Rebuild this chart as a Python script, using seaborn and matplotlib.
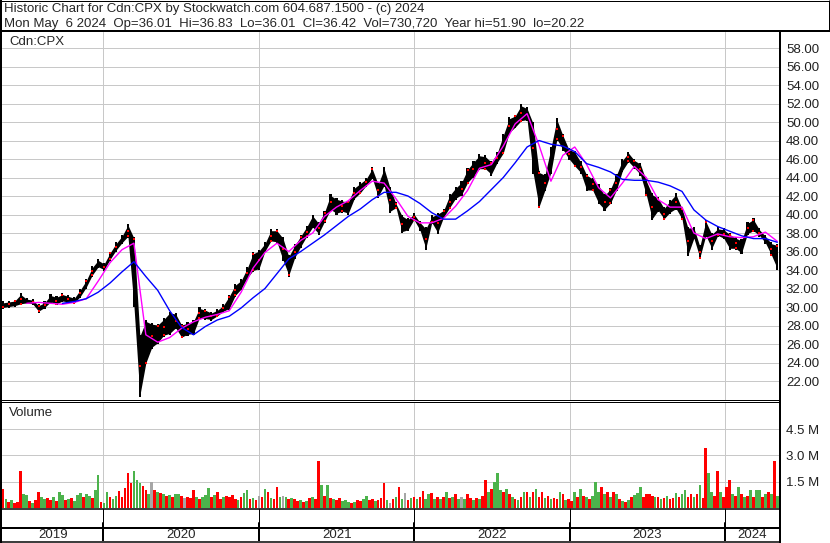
import numpy as np
import pandas as pd
import seaborn as sns
import matplotlib
matplotlib.use("Agg")
import matplotlib.pyplot as plt

sns.set_style("white")
plt.rcParams["font.family"] = ["Liberation Sans", "DejaVu Sans"]

# --- text ---
title_1 = "Historic Chart for Cdn:CPX by Stockwatch.com 604.687.1500 - (c) 2024"
title_2 = ("Mon May  6 2024  Op=36.01  Hi=36.83  Lo=36.01  Cl=36.42  "
           "Vol=730,720  Year hi=51.90  lo=20.22")
symbol = "Cdn:CPX"
year_labels = ["2019", "2020", "2021", "2022", "2023", "2024"]
year_starts = ["2020-01-01", "2021-01-01", "2022-01-01", "2023-01-01", "2024-01-01"]

# --- price, two-week bars (low / high) ---
price_dates = pd.date_range("2019-05-10", periods=131, freq="14D")
lows = [29.8, 29.9, 30.0, 30.2, 30.3, 30.2, 29.4, 29.8, 30.4, 30.2,
        30.5, 30.4, 30.3, 31.0, 32.0, 33.3, 34.2, 33.9, 35.0, 36.0,
        36.8, 37.5, 30.0, 20.3, 23.8, 25.5, 26.0, 26.8, 27.0, 27.6,
        26.6, 26.9, 27.0, 28.7, 28.6, 28.5, 28.9, 29.4, 29.7, 31.1,
        31.8, 33.0, 33.8, 34.0, 35.9, 37.0, 36.9, 35.0, 33.3, 35.2,
        36.4, 37.5, 38.5, 37.8, 39.1, 40.4, 40.0, 40.2, 40.0, 41.6,
        42.2, 43.0, 43.8, 41.8, 43.0, 40.2, 40.6, 38.0, 38.2, 39.3,
        38.2, 36.2, 39.0, 37.9, 39.6, 40.6, 41.6, 42.0, 43.3, 44.0,
        44.8, 44.8, 44.2, 45.5, 46.5, 48.7, 49.3, 50.0, 50.1, 44.4,
        40.7, 42.5, 44.4, 48.0, 46.9, 45.9, 45.1, 44.4, 42.5, 42.5,
        41.1, 40.4, 41.1, 42.5, 44.6, 45.6, 44.9, 44.2, 42.0, 39.4,
        40.3, 39.4, 40.1, 40.5, 39.4, 35.5, 37.3, 35.2, 37.6, 36.2,
        37.6, 37.3, 36.2, 36.2, 35.7, 37.8, 38.1, 37.6, 36.8, 35.5,
        34.0]
highs = [30.6, 30.7, 30.8, 31.5, 31.0, 30.9, 30.3, 30.6, 31.4, 31.2,
         31.5, 31.3, 31.1, 32.0, 33.0, 34.4, 35.2, 34.8, 36.0, 37.0,
         37.8, 39.0, 37.6, 27.0, 28.6, 28.3, 28.2, 28.8, 29.5, 29.4,
         28.2, 28.4, 28.6, 30.0, 29.8, 29.5, 29.8, 30.3, 31.3, 32.5,
         33.0, 34.3, 35.9, 36.2, 37.0, 38.4, 38.4, 37.6, 35.6, 36.8,
         37.8, 38.8, 40.0, 39.2, 40.4, 42.2, 41.8, 41.6, 41.5, 43.0,
         43.5, 44.0, 45.1, 43.4, 45.1, 43.0, 41.3, 40.0, 39.6, 40.2,
         39.3, 38.6, 39.9, 40.2, 40.6, 42.2, 43.0, 43.6, 45.0, 45.8,
         46.5, 46.4, 45.8, 46.8, 48.7, 50.5, 50.8, 51.9, 51.6, 50.0,
         44.7, 44.4, 47.3, 50.4, 48.7, 47.2, 46.9, 45.8, 44.4, 44.0,
         43.3, 42.2, 42.9, 44.4, 46.0, 46.8, 46.0, 45.6, 43.8, 42.3,
         41.9, 40.8, 41.6, 42.3, 40.8, 38.7, 38.7, 36.7, 39.4, 38.0,
         38.6, 38.5, 38.0, 37.6, 37.3, 39.2, 39.6, 38.5, 37.8, 37.0,
         36.8]

# --- moving averages, read every four weeks ---
ma_short = [30.4, 30.5, 30.4, 30.3, 30.5, 30.9, 32.8, 34.8, 36.2, 36.9,
            27.0, 26.2, 26.7, 27.7, 28.4, 28.9, 29.2, 29.6, 31.6, 34.2,
            35.9, 36.9, 36.0, 37.2, 38.0, 39.8, 40.8, 41.5, 42.6, 43.6,
            43.4, 41.7, 39.8, 39.1, 39.1, 39.6, 40.9, 42.6, 45.0, 45.4,
            47.4, 49.8, 50.9, 47.5, 43.6, 46.4, 47.3, 45.4, 42.9, 41.8,
            43.4, 45.2, 44.0, 41.6, 40.8, 40.8, 38.0, 37.4, 37.9, 37.6,
            37.5, 37.6, 38.1, 37.1]
ma_long = [30.4, 30.6, 30.9, 31.6, 32.6, 33.8, 34.9, 33.3, 31.8, 29.6,
           27.8, 27.0, 27.9, 28.6, 29.0, 29.9, 31.0, 32.0, 33.6, 35.2,
           36.0, 36.9, 37.8, 38.8, 39.8, 40.6, 41.6, 42.4, 42.4, 42.0,
           41.2, 40.2, 39.5, 39.5, 40.4, 41.4, 42.7, 44.0, 45.6, 47.3,
           48.0, 47.6, 47.4, 46.8, 45.5, 45.1, 44.6, 43.8, 43.7, 43.7,
           43.5, 43.1, 42.5, 40.5, 39.4, 38.7, 38.2, 37.7, 37.4, 37.4,
           37.0]

# --- weekly volume (millions) and up/down colour code ---
vol_dates = pd.date_range("2019-05-10", periods=261, freq="7D")
volume = [1.1, 0.5, 0.35, 0.45, 0.3, 0.35, 2.1, 0.8, 0.75, 0.4,
          0.3, 0.45, 0.9, 0.6, 0.5, 0.55, 0.45, 0.6, 0.4, 0.9,
          0.75, 0.45, 0.5, 0.55, 0.4, 0.75, 0.85, 0.6, 0.8, 0.7,
          0.55, 1.0, 1.9, 0.35,
          0.3, 0.9, 0.6, 0.5, 0.7, 0.95, 0.6, 1.15, 2.0, 1.4,
          2.1, 1.6, 1.4, 1.25, 1.0, 0.8, 1.5, 1.0, 0.9, 0.85,
          0.8, 0.7, 0.75, 0.6, 0.8, 0.8, 0.7, 0.55, 0.6, 0.55,
          1.0, 0.65, 0.5, 0.65, 0.75, 1.15, 0.6, 0.75, 0.9, 0.5,
          0.6, 0.7, 0.6, 0.75, 0.5, 0.45, 0.6, 0.85, 1.0, 0.5,
          0.55, 0.45, 0.7,
          0.6, 1.1, 0.9, 0.55, 0.5, 1.2, 0.6, 0.7, 0.6, 0.5,
          0.55, 0.5, 0.4, 0.45, 0.35, 0.4, 0.55, 0.6, 0.5, 2.7,
          1.3, 0.7, 1.3, 0.55, 0.5, 0.45, 0.55, 0.4, 0.45, 0.35,
          0.3, 0.35, 0.45, 0.4, 0.5, 0.7, 0.45, 0.5, 0.4, 0.45,
          0.55, 1.4, 0.45, 0.3, 0.5, 0.6, 1.2, 0.5, 0.85, 0.45,
          0.55, 0.6,
          0.5, 0.6, 0.95, 0.5, 0.8, 0.85, 0.5, 0.6, 0.5, 0.6,
          0.9, 0.55, 0.6, 0.8, 0.5, 0.6, 0.5, 0.8, 0.55, 0.45,
          0.55, 0.5, 0.7, 1.6, 0.9, 1.1, 1.5, 2.0, 1.0, 0.9,
          1.1, 0.8, 0.6, 0.5, 0.45, 0.6, 0.9, 0.9, 0.65, 0.9,
          1.1, 0.6, 0.9, 0.55, 0.7, 0.5, 0.55, 0.5, 0.9, 0.8,
          0.45, 0.5, 0.4, 0.9,
          0.6, 1.1, 0.7, 0.6, 0.5, 0.7, 1.5, 0.9, 1.2, 0.8,
          0.9, 0.6, 0.9, 0.8, 0.5, 0.4, 0.35, 0.45, 0.6, 0.75,
          0.85, 1.2, 0.6, 0.8, 0.8, 0.7, 0.6, 0.65, 0.5, 0.55,
          0.7, 0.5, 0.55, 0.85, 0.65, 0.8, 1.0, 0.6, 0.8, 0.6,
          0.8, 1.3, 0.55, 3.4, 2.0, 0.9, 0.7, 2.1, 0.9, 0.6,
          1.2, 1.6, 0.8, 0.7, 1.2, 0.8, 0.6, 0.7, 1.0, 0.6,
          1.0, 1.0, 0.6, 0.8, 0.9, 0.8, 2.7, 0.7]
vol_dir = ("rgrgrrrggrgrrggrrgrggrgrgggrggrggr"
           "ggrggrrrrrgggrrgkrgrgrgrggrkrrrgrgggrgrrgrrrrgrggrgrk"
           "rgrgrrgkgrgrrgrgrgrrgrgrgrrgggrgrrggrrgrrrgkrgrgkrgr"
           "grrggrgrgrgrgrgkgrrgrgrrgrgggrgrgrgrgrgrgrrgrgrrgrgrrg"
           "rgrgrgggrgrgrgrgrgrgggrrrrgrgrgrrgrggrrgrgrrggrrgr"
           "rrgrgrgrgrggrgrgrg")

price_ticks = list(range(22, 59, 2))
vol_ticks = [1.5, 3.0, 4.5]

# ---------------------------------------------------------------
W, H = 830, 543
FS = 9.55
fig = plt.figure(figsize=(W / 100, H / 100), dpi=100)


def px_box(x0, y0, x1, y1):
    return [x0 / W, 1 - y1 / H, (x1 - x0) / W, (y1 - y0) / H]


ax_p = fig.add_axes(px_box(2, 32, 779, 400))
ax_v = fig.add_axes(px_box(2, 403, 779, 509))
ax_d = fig.add_axes(px_box(2, 509, 779, 541))

xlim = (pd.Timestamp("2019-05-08"), pd.Timestamp("2024-05-07"))
px = 0.72  # one pixel in points
grid_col = "#c8c8c8"
yr = pd.to_datetime(year_starts)

for ax in (ax_p, ax_v, ax_d):
    ax.set_xlim(*xlim)
    for s in ax.spines.values():
        s.set_visible(False)
    ax.set_xticks(yr)
    ax.tick_params(axis="x", length=0, labelbottom=False)
    ax.set_axisbelow(True)

# price panel
ax_p.set_ylim(19.95, 59.73)
ax_p.set_yticks(price_ticks)
ax_p.set_yticklabels([f"{v:.2f}" for v in price_ticks])
ax_p.yaxis.tick_right()
ax_p.tick_params(axis="y", length=0, pad=5, labelsize=FS, labelcolor="#202020")
ax_p.grid(True, color=grid_col, lw=px)

lo = np.array(lows)
hi = np.array(highs)
# dense daily bars read as a jagged band: band between the lows and highs
# plus the two-week bars on top
ax_p.fill_between(price_dates, lo + 0.15, hi - 0.15, color="black", lw=0, zorder=2)
ax_p.bar(price_dates, hi - lo, bottom=lo, width=5, color="black", lw=0, zorder=2)
ax_p.scatter(price_dates[1::2], (lo[1::2] + hi[1::2]) / 2, s=3, marker="s",
             color="red", lw=0, zorder=3)
ax_p.scatter(price_dates[::3], lo[::3] + 0.15, s=3, marker="s",
             color="red", lw=0, zorder=3)
ax_p.scatter(price_dates[2::4], hi[2::4] - 0.2, s=3, marker="s",
             color="red", lw=0, zorder=3)

sns.lineplot(x=price_dates[4::2], y=ma_short, ax=ax_p, color="#ff00ff",
             lw=1.0, zorder=4)
sns.lineplot(x=price_dates[10::2], y=ma_long, ax=ax_p, color="#0000ff",
             lw=1.0, zorder=4)
ax_p.set_xlabel("")
ax_p.set_ylabel("")

# volume panel
ax_v.set_ylim(-0.057, 5.99)
ax_v.set_yticks(vol_ticks)
ax_v.set_yticklabels([f"{v:.1f} M" for v in vol_ticks])
ax_v.yaxis.tick_right()
ax_v.tick_params(axis="y", length=0, pad=5, labelsize=FS, labelcolor="#202020")
ax_v.grid(True, color=grid_col, lw=px)
cmap = {"r": "#ff0000", "g": "#4cb34c", "k": "#a6a6a6"}
ax_v.bar(vol_dates, volume, width=6.2, color=[cmap[c] for c in vol_dir],
         align="center", lw=0, zorder=2)

# date strip
ax_d.set_ylim(0, 1)
ax_d.set_yticks([])
for d in yr:
    ax_d.plot([d, d], [0.56, 1], color="black", lw=px)
    ax_d.plot([d, d], [0, 0.56], color="black", lw=2 * px)
bounds = [xlim[0]] + list(yr) + [xlim[1]]
for lab, a, b in zip(year_labels, bounds[:-1], bounds[1:]):
    ax_d.text(a + (b - a) / 2, 0.2, lab, ha="center", va="center", fontsize=FS)

# frame lines and labels in pixel space
frame = fig.add_axes([0, 0, 1, 1], zorder=10)
frame.set_xlim(0, W)
frame.set_ylim(H, 0)
frame.axis("off")
frame.patch.set_alpha(0)


def hline(y, x0, x1, w):
    frame.plot([x0, x1], [y, y], color="black", lw=w * px, solid_capstyle="butt")


def vline(x, y0, y1, w):
    frame.plot([x, x], [y0, y1], color="black", lw=w * px, solid_capstyle="butt")


hline(0.5, 0, W, 1)
hline(31, 0, W, 2)
hline(399.5, 0, 780, 1)
hline(401.8, 0, 780, 1)
hline(509, 0, 780, 1.5)
hline(527.5, 0, 780, 2)
hline(541.5, 0, 780, 1.5)
vline(1, 0, H, 2)
vline(828.5, 0, 31, 1)
vline(780, 31, H, 2)

frame.text(4, 9, title_1, va="center", ha="left", fontsize=FS)
frame.text(4, 23.5, title_2, va="center", ha="left", fontsize=FS)
frame.text(9, 42, symbol, va="center", ha="left", fontsize=FS)
frame.text(9, 413, "Volume", va="center", ha="left", fontsize=FS)

fig.savefig("out.png", dpi=100)
